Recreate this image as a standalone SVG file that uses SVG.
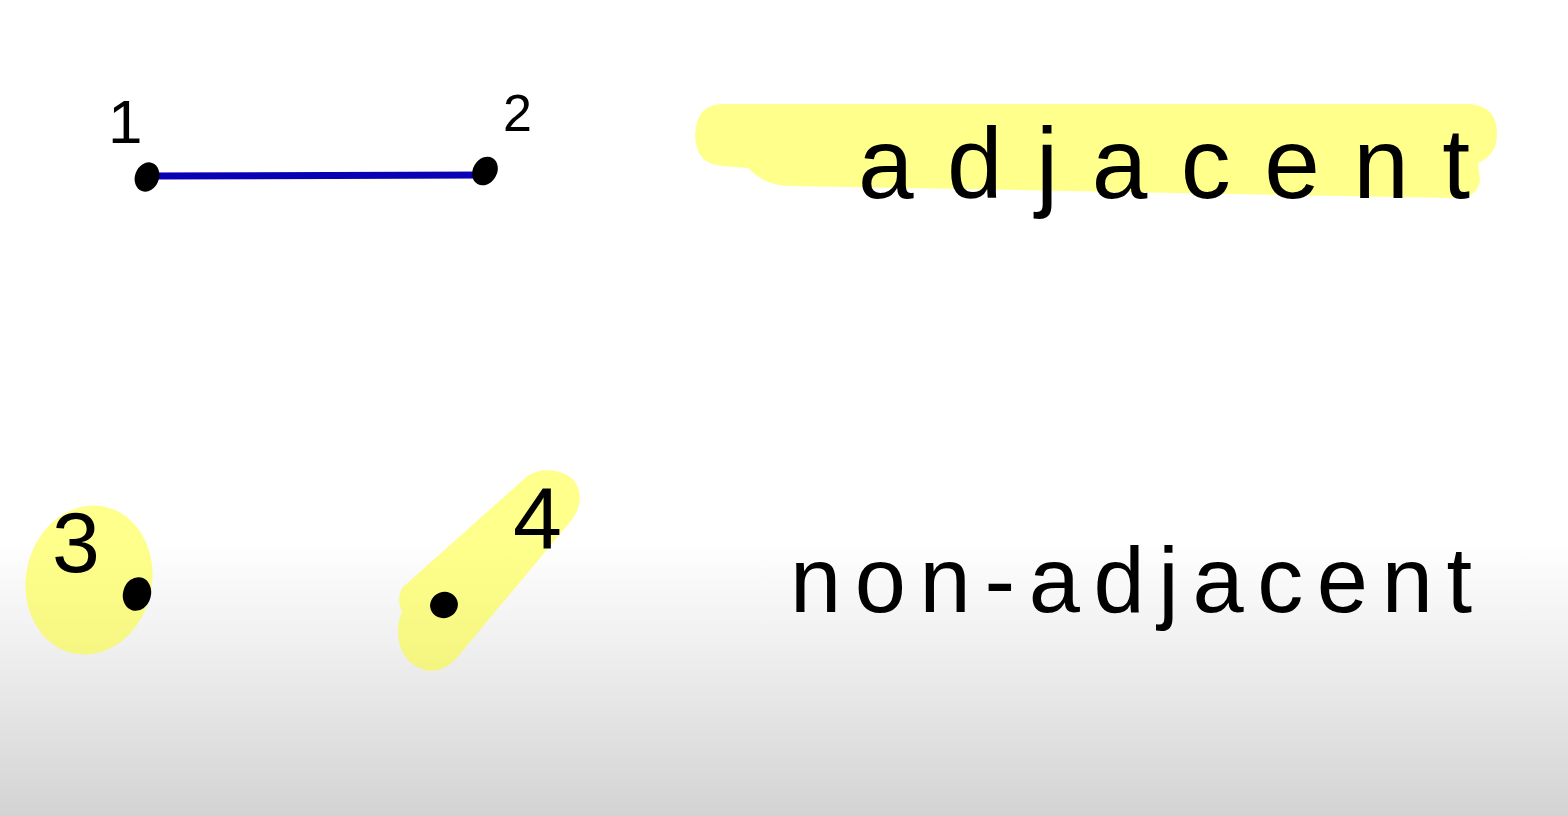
<svg xmlns="http://www.w3.org/2000/svg" width="1568" height="816" viewBox="0 0 1568 816">
  <defs>
    <linearGradient id="bg" x1="0" y1="0" x2="0" y2="1">
      <stop offset="0" stop-color="#ffffff"/>
      <stop offset="0.66" stop-color="#ffffff"/>
      <stop offset="0.78" stop-color="#f1f1f1"/>
      <stop offset="1" stop-color="#d3d3d3"/>
    </linearGradient>
    <style>
      .hl { fill: #ffff00; fill-opacity: 0.45; }
      .dot { fill: #000000; }
      .num { font-family: "Liberation Sans", "DejaVu Sans", sans-serif; fill: #000000; }
      .word { font-family: "Liberation Sans", "DejaVu Sans", sans-serif; fill: #000000; }
      .edge { stroke: #0a00b4; stroke-width: 7; stroke-linecap: round; fill: none; }
    </style>
  </defs>

  <rect x="0" y="0" width="1568" height="816" fill="url(#bg)"/>

  <!-- highlights -->
  <g id="highlights">
    <path class="hl" d="M 722 104 L 1470 104 Q 1497 106 1497 134 Q 1497 155 1478 163 L 1480 180 Q 1478 198 1455 198 L 790 186 Q 765 186 748 168 L 722 166 Q 695 164 695 134 Q 697 104 722 104 Z"/>
    <ellipse class="hl" cx="89" cy="580" rx="63" ry="75" transform="rotate(12 89 580)"/>
    <path class="hl" d="M 548 470 Q 580 472 580 500 Q 578 515 565 528 L 455 660 Q 440 674 425 670 Q 398 662 398 630 Q 398 620 402 612 Q 396 600 402 588 L 525 478 Q 535 470 548 470 Z"/>
  </g>

  <!-- connectors -->
  <g id="connectors">
    <line class="edge" x1="150" y1="176" x2="483" y2="175"/>
  </g>

  <!-- nodes -->
  <g id="node-1">
    <ellipse class="dot" cx="147" cy="177" rx="12" ry="15" transform="rotate(20 147 177)"/>
    <text class="num" x="108" y="143" font-size="62">1</text>
  </g>
  <g id="node-2">
    <ellipse class="dot" cx="485" cy="171" rx="12" ry="15" transform="rotate(30 485 171)"/>
    <text class="num" x="503" y="131" font-size="52">2</text>
  </g>
  <g id="node-3">
    <ellipse class="dot" cx="137" cy="594" rx="14" ry="17" transform="rotate(15 137 594)"/>
    <text class="num" x="52" y="572" font-size="86">3</text>
  </g>
  <g id="node-4">
    <ellipse class="dot" cx="444" cy="605" rx="14" ry="13" transform="rotate(-20 444 605)"/>
    <text class="num" x="513" y="549" font-size="88">4</text>
  </g>

  <!-- labels -->
  <g id="label-adjacent">
    <text class="word" x="858" y="198" font-size="100" textLength="612" lengthAdjust="spacing">adjacent</text>
  </g>
  <g id="label-non-adjacent">
    <text class="word" x="790" y="612" font-size="92" textLength="682" lengthAdjust="spacing">non-adjacent</text>
  </g>
</svg>
